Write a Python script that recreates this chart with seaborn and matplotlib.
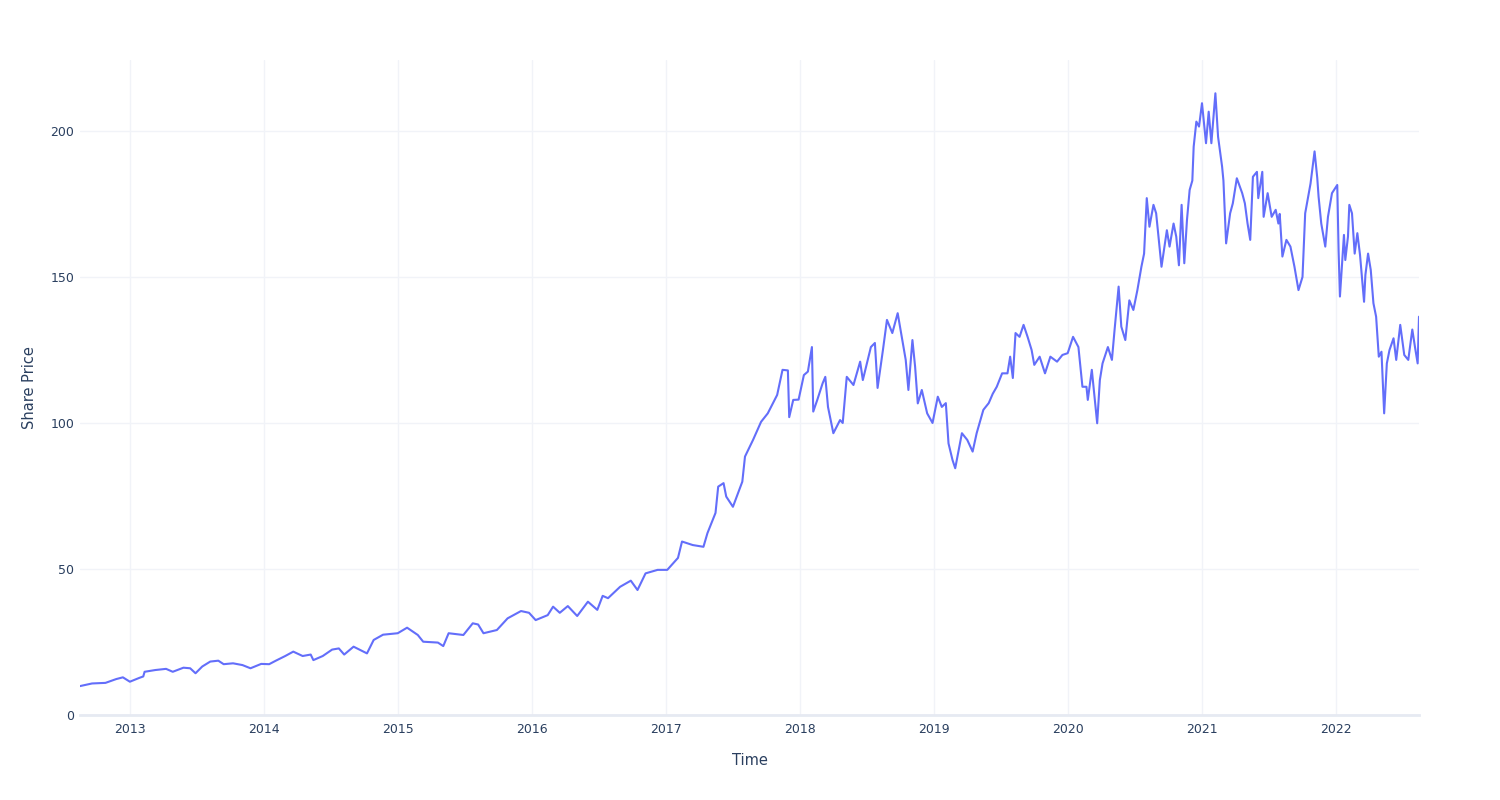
import matplotlib
matplotlib.use("Agg")
import matplotlib.pyplot as plt
import matplotlib.dates as mdates
import numpy as np
import pandas as pd
import seaborn as sns

# time as decimal years
years = [
    2012.63, 2012.72, 2012.82, 2012.90, 2012.95, 2013.00, 2013.07, 2013.10, 2013.11, 2013.19,
    2013.27, 2013.32, 2013.40, 2013.45, 2013.49, 2013.54, 2013.60, 2013.66, 2013.70, 2013.77,
    2013.84, 2013.90, 2013.98, 2014.04, 2014.09, 2014.16, 2014.22, 2014.29, 2014.35, 2014.37,
    2014.44, 2014.51, 2014.56, 2014.60, 2014.67, 2014.77, 2014.82, 2014.89, 2015.00, 2015.07,
    2015.15, 2015.19, 2015.30, 2015.34, 2015.38, 2015.49, 2015.56, 2015.60, 2015.64, 2015.74,
    2015.82, 2015.92, 2015.98, 2016.03, 2016.12, 2016.16, 2016.21, 2016.27, 2016.34, 2016.42,
    2016.49, 2016.53, 2016.57, 2016.66, 2016.74, 2016.79, 2016.85, 2016.94, 2017.01, 2017.09,
    2017.12, 2017.20, 2017.28, 2017.31, 2017.37, 2017.39, 2017.43, 2017.45, 2017.50, 2017.57,
    2017.59, 2017.65, 2017.71, 2017.76, 2017.83, 2017.87, 2017.91, 2017.92, 2017.95, 2017.99,
    2018.03, 2018.06, 2018.09, 2018.10, 2018.13, 2018.17, 2018.19, 2018.21, 2018.25, 2018.30,
    2018.32, 2018.35, 2018.40, 2018.45, 2018.47, 2018.53, 2018.56, 2018.58, 2018.62, 2018.65,
    2018.69, 2018.73, 2018.76, 2018.79, 2018.81, 2018.84, 2018.86, 2018.88, 2018.91, 2018.95,
    2018.99, 2019.03, 2019.06, 2019.09, 2019.11, 2019.14, 2019.16, 2019.21, 2019.25, 2019.29,
    2019.32, 2019.37, 2019.41, 2019.44, 2019.47, 2019.51, 2019.55, 2019.57, 2019.59, 2019.61,
    2019.64, 2019.67, 2019.70, 2019.73, 2019.75, 2019.79, 2019.83, 2019.87, 2019.92, 2019.96,
    2020.00, 2020.04, 2020.08, 2020.11, 2020.14, 2020.15, 2020.18, 2020.22, 2020.24, 2020.26,
    2020.30, 2020.33, 2020.35, 2020.38, 2020.40, 2020.43, 2020.46, 2020.49, 2020.52, 2020.55,
    2020.57, 2020.59, 2020.61, 2020.64, 2020.66, 2020.69, 2020.70, 2020.74, 2020.76, 2020.79,
    2020.81, 2020.83, 2020.85, 2020.87, 2020.89, 2020.91, 2020.93, 2020.94, 2020.96, 2020.98,
    2021.00, 2021.03, 2021.05, 2021.07, 2021.10, 2021.12, 2021.15, 2021.16, 2021.18, 2021.21,
    2021.23, 2021.26, 2021.30, 2021.32, 2021.34, 2021.36, 2021.38, 2021.41, 2021.42, 2021.45,
    2021.46, 2021.49, 2021.52, 2021.55, 2021.57, 2021.58, 2021.60, 2021.63, 2021.66, 2021.69,
    2021.72, 2021.75, 2021.77, 2021.81, 2021.84, 2021.86, 2021.87, 2021.89, 2021.92, 2021.94,
    2021.97, 2022.01, 2022.02, 2022.03, 2022.06, 2022.07, 2022.09, 2022.10, 2022.12, 2022.14,
    2022.16, 2022.18, 2022.21, 2022.22, 2022.24, 2022.26, 2022.28, 2022.30, 2022.32, 2022.34,
    2022.36, 2022.38, 2022.40, 2022.43, 2022.45, 2022.48, 2022.51, 2022.54, 2022.57, 2022.59,
    2022.61, 2022.62,
]

share_price = [
    9.9, 10.8, 11.0, 12.3, 12.9, 11.4, 12.7, 13.2, 14.8, 15.4,
    15.8, 14.8, 16.2, 16.0, 14.3, 16.6, 18.3, 18.6, 17.4, 17.7,
    17.1, 16.0, 17.5, 17.4, 18.6, 20.2, 21.7, 20.2, 20.7, 18.8,
    20.2, 22.4, 22.8, 20.7, 23.4, 21.1, 25.7, 27.5, 28.0, 29.9,
    27.4, 25.1, 24.8, 23.6, 28.0, 27.4, 31.4, 31.0, 28.0, 29.1,
    33.1, 35.6, 35.0, 32.5, 34.2, 37.1, 35.0, 37.3, 33.9, 38.8,
    36.0, 40.8, 40.0, 43.9, 46.0, 42.8, 48.5, 49.7, 49.7, 53.8,
    59.4, 58.2, 57.6, 62.3, 69.2, 78.2, 79.4, 74.8, 71.3, 79.9,
    88.5, 94.2, 100.4, 103.3, 109.6, 118.2, 118.0, 102.0, 107.9, 108.0,
    116.4, 117.6, 126.0, 103.9, 107.9, 113.6, 115.8, 105.5, 96.5, 101.0,
    100.0, 115.8, 113.0, 121.0, 114.7, 126.0, 127.4, 112.0, 125.0, 135.3,
    130.8, 137.6, 129.5, 121.6, 111.3, 128.4, 119.3, 106.7, 111.3, 103.3,
    100.0, 109.0, 105.5, 106.8, 93.0, 87.3, 84.5, 96.5, 94.2, 90.2,
    96.5, 104.5, 106.8, 110.0, 112.4, 117.0, 117.0, 122.7, 115.4, 130.8,
    129.5, 133.6, 129.5, 125.0, 119.9, 122.7, 117.0, 122.7, 121.0, 123.3,
    123.9, 129.5, 126.0, 112.4, 112.4, 107.9, 118.2, 99.9, 114.7, 120.4,
    126.0, 121.6, 132.0, 146.7, 133.0, 128.4, 142.0, 138.7, 145.5, 153.5,
    158.0, 177.0, 167.2, 174.7, 171.8, 158.0, 153.5, 166.0, 160.4, 168.3,
    163.8, 154.0, 174.7, 154.7, 169.5, 179.8, 183.0, 194.6, 203.2, 201.5,
    209.5, 195.8, 206.6, 195.8, 212.9, 198.0, 187.8, 183.0, 161.5, 171.8,
    175.2, 183.8, 178.7, 175.2, 168.3, 162.7, 184.3, 186.0, 177.0, 186.0,
    170.6, 178.7, 170.6, 173.0, 168.3, 171.6, 157.0, 162.7, 160.4, 153.5,
    145.5, 150.0, 171.8, 182.0, 193.0, 184.0, 177.5, 168.3, 160.4, 170.6,
    178.7, 181.5, 159.0, 143.3, 164.4, 155.8, 163.8, 174.7, 171.8, 158.0,
    165.0, 157.5, 141.5, 150.7, 158.0, 152.4, 141.0, 136.4, 122.7, 124.4,
    103.3, 120.4, 125.0, 129.0, 121.6, 133.6, 123.3, 121.6, 132.0, 126.0,
    120.4, 136.4,
]

y_ticks = [0, 50, 100, 150, 200]
x_tick_years = list(range(2013, 2023))


def to_date(y):
    yr = int(np.floor(y))
    return pd.Timestamp(year=yr, month=1, day=1) + pd.Timedelta(days=(y - yr) * 365.25)


df = pd.DataFrame({"Time": [to_date(v) for v in years], "Share Price": share_price})

sns.set_style("white")
plt.rcParams["font.family"] = ["DejaVu Sans"]

grid_c = "#f1f3f8"
text_c = "#2a3f5f"

fig = plt.figure(figsize=(15, 8), dpi=100)
ax = fig.add_axes([80 / 1500, 85 / 800, 1339 / 1500, 655 / 800])

sns.lineplot(data=df, x="Time", y="Share Price", ax=ax, color="#636efa", linewidth=1.5)

ax.set_xlim(df["Time"].iloc[0], df["Time"].iloc[-1])
ax.set_ylim(0, 224.3)
ax.set_yticks(y_ticks)
ax.set_xticks([pd.Timestamp(year=y, month=1, day=1) for y in x_tick_years])
ax.xaxis.set_major_formatter(mdates.DateFormatter("%Y"))

ax.grid(True, color=grid_c, linewidth=1)
ax.set_axisbelow(True)
for s in ["top", "right", "left"]:
    ax.spines[s].set_visible(False)
ax.spines["bottom"].set_color("#e6eaf2")
ax.spines["bottom"].set_linewidth(2)

ax.tick_params(axis="both", length=0, labelsize=9, colors=text_c)
ax.tick_params(axis="x", pad=6)
ax.tick_params(axis="y", pad=4)
ax.set_xlabel("Time", fontsize=10.5, color=text_c, labelpad=12)
ax.set_ylabel("Share Price", fontsize=10.5, color=text_c, labelpad=10)

fig.savefig("out.png", dpi=100)
